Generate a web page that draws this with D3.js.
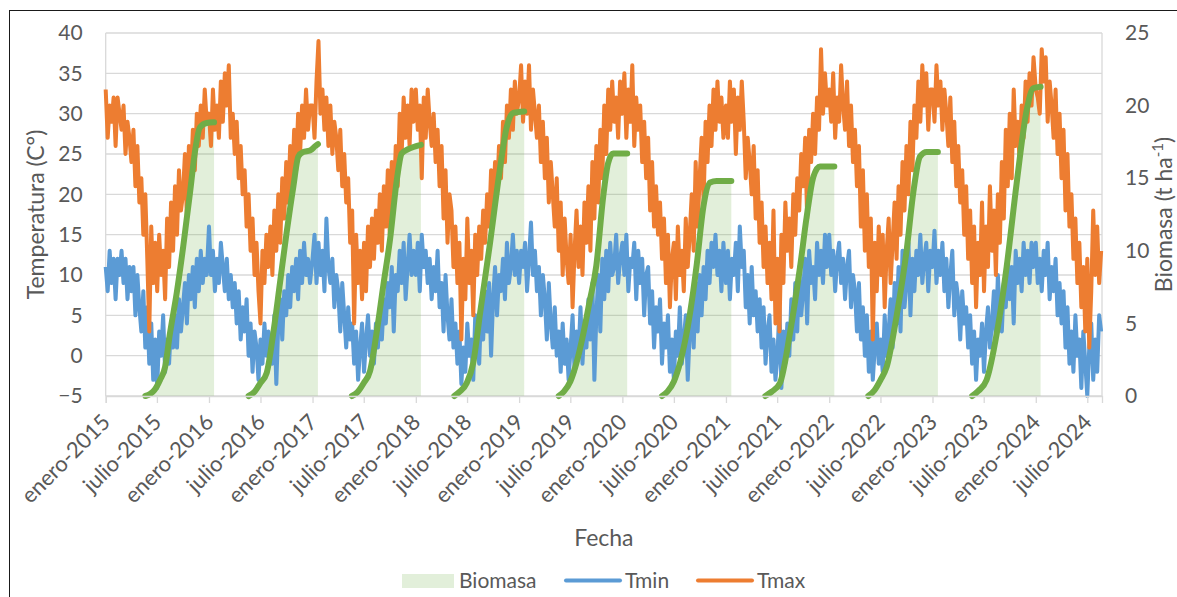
<!DOCTYPE html>
<html>
<head>
<meta charset="utf-8">
<script src="https://cdn.jsdelivr.net/npm/d3@7"></script>
<style>
    body { margin: 0; background: #fff; }
    text { font-family: Lato, "Open Sans", sans-serif; fill: #595959; }
</style>
</head>
<body>
<svg width="1177" height="597"></svg>
<script>

// valores semanales: 52 por año (1 ene + 7 dias * k), 2024 hasta agosto
var anioInicio = 2015;
var semanasPorAnio = 52;

var tmax = [
    33,27,31,29,32, 26,32,30,28, 31,25,29,27, 24,28,21,26,19, 22,15,20,12, 3,16,9,14, 8,15,10,13,7, 17,11,19,13, 21,15,23,18, 20,25,17,26,22, 28,23,30,26, 31,27,33,29,
    30,26,33,28,31, 27,34,29,35, 31,36,27,30, 25,29,22,26,20, 23,16,20,13, 17,10,14,8, 4,13,9,15,11, 16,10,18,13, 20,14,22,17, 24,19,26,21,28, 23,30,25,31, 27,33,28,31,
    31,27,34,39,30, 33,28,32,26, 31,25,29,27, 23,28,21,25,19, 22,14,18,4, 15,9,13,7, 14,8,16,11,17, 12,18,14,20, 13,21,16,23, 15,24,18,26,21, 30,25,32,27, 31,26,33,29,
    33,28,31,22,32, 27,33,29,26, 30,24,28,21, 26,17,23,14,20, 18,11,16,9, 14,2,12,7, 17,9,13,5,15, 10,16,12,18, 14,20,16,23, 18,24,20,26,22, 29,24,31,27, 33,28,34,30,
    32,36,29,34,30, 36,28,33,30, 27,31,24,29, 22,27,19,24,20, 16,22,13,19, 10,17,12,9, 15,6,13,18,11, 16,10,19,14, 21,13,24,17, 26,19,28,22,31, 25,33,28,34, 29,32,27,34,
    30,35,27,33,29, 36,26,32,28, 31,24,29,22, 27,18,24,16,21, 15,19,12,17, 9,15,6,12, 14,7,16,10,13, 8,17,11,15, 20,13,24,16, 22,27,19,29,24, 31,26,33,28, 34,29,32,27,
    31,27,34,29,33, 25,32,28,34, 29,22,27,24, 20,26,17,23,14, 19,11,16,9, 14,7,18,4, 12,3,15,9,19, 13,17,11,20, 15,22,18,25, 21,27,17,28,24, 30,25,32,28, 38,30,35,31,
    33,29,35,27,32, 29,36,31,28, 34,26,31,24, 28,21,26,16,23, 13,20,11,17, 2,14,8,16, 10,15,6,13,17, 9,14,19,12, 21,15,24,18, 26,20,29,23,31, 27,34,29,36, 31,35,28,33,
    33,29,36,31,34, 28,33,30,26, 32,24,29,21, 26,19,23,15,21, 12,18,9,16, 6,14,10,19, 8,16,11,21,13, 18,10,20,14, 24,17,28,21, 30,22,33,26,29, 24,31,27,34, 29,35,31,37,
    33,32,30,38,34, 37,29,34,31, 27,33,25,30, 22,28,18,25,16, 20,12,17,9, 14,6,11,3, 12,1,8,18,10, 16,9,13
];

var tmin = [
    11,8,13,9,12, 7,12,10,13, 9,12,7,11, 8,11,5,10,6, 3,8,1,6, -1,4,-3,2, -4,3,0,5,-2, 2,-1,4,1, 5,1,7,3, 6,9,4,10,7, 11,6,12,8, 13,9,12,10,
    16,10,13,8,12, 9,14,11,8, 12,7,10,6, 9,4,8,2,6, 3,7,0,4, -2,3,1,-3, 2,-1,4,0,3, 2,-1,5,-3.5, 4,7,2,8, 5,10,6,11,8, 12,7,13,9, 14,10,12,9,
    12,15,9,14,10, 13,8,17,11, 9,12,6,10, 8,3,9,5,1, 6,2,4,-1, 3,-3,1,4, -2,2,5,0,3, -1,4,1,6, 2,7,4,9, 6,11,3,10,8, 13,9,14,7, 11,15,10,13,
    10,14,8,15,11, 13,9,12,7, 11,8,13,6, 9,3,10,5,2, 7,1,4,-1, 3,-3.5,1,-2, 4,0,2,-3,5, 1,-1,6,2, 8,3,9,0, 7,11,5,10,8, 12,7,14,9, 11,15,10,13,
    9,13,11,14,8, 12,16.5,10,13, 8,11,5,10, 7,2,9,4,1, 6,0,3,-2, 4,-1,2,-3, 1,5,-2,3,0, 6,-1,4,1, 7,2,9,-3, 5,10,3,12,7, 13,8,14,10, 11,15,9,12,
    14,10,15,8,12, 11,14,7,13, 9,12,5,10, 11,4,8,1,6, 3,7,-1,4, 1,5,-2,2, -3,3,0,6,-1, 2,5,-3,3, 6,1,9,3, 10,5,11,7,13, 9,14,11,15, 10,13,8,14,
    9,13,7,12,10, 14,8,16,11, 13,6,10,4, 11,5,8,3,7, 1,6,-1,3, 5,-2,2,-3, 0,6,-4,3,-1, 4,0,7,2, 9,3,11,5, 8,12,4,13,9, 11,7,14,10, 13,9,15,11,
    15,10,13,8,12, 14,9,12,7, 11,13,6,10, 8,3,9,2,6, 0,5,-2,3, -3,1,4,-1, 2,-2,5,0,3, 7,1,9,4, 11,3,13,6, 9,14,5,12,8, 13,10,15,9, 12,14,8,13,
    11,15.5,9,13,10, 14,8,12,6, 10,13,5,9, 7,2,8,4,6, 1,5,-1,3, -3,2,0,4, -2,3,6,1,4, 8,2,10,5, 3,9,6,12, 7,11,4,13,9, 12,8,14,10, 13,9,14,11,
    14,9,12,8,13, 10,14,7,11, 8,12,5,9, 4,8,1,6,-1, 3,-2,5,0, 2,-4,3,-1, -5,1,4,-3,2, -2,5,3
];

// biomasa (t/ha) por temporada, null separa las temporadas
var biomasa = [
    ["2015-05-21",0], ["2015-06-08",0.15], ["2015-06-22",0.4], ["2015-07-12",1.1], ["2015-07-30",2.0], ["2015-08-16",4.3], ["2015-09-09",7.1], ["2015-10-02",10.3], ["2015-10-26",14.0], ["2015-11-13",16.9], ["2015-11-30",18.5], ["2015-12-24",18.8], ["2016-01-19",18.85],
    null,
    ["2016-05-20",0], ["2016-06-10",0.3], ["2016-07-01",0.9], ["2016-07-23",1.6], ["2016-08-15",4.3], ["2016-09-08",7.8], ["2016-10-01",11.2], ["2016-10-25",14.4], ["2016-11-12",16.5], ["2016-11-29",16.8], ["2016-12-23",16.9], ["2017-01-10",17.2], ["2017-01-20",17.35],
    null,
    ["2017-05-20",0], ["2017-06-08",0.25], ["2017-07-01",0.9], ["2017-07-23",1.7], ["2017-08-15",4.3], ["2017-09-08",7.6], ["2017-10-02",10.8], ["2017-10-26",14.9], ["2017-11-12",16.7], ["2017-12-05",17.0], ["2018-01-19",17.3],
    null,
    ["2018-05-17",0], ["2018-06-05",0.3], ["2018-06-30",0.9], ["2018-07-23",2.3], ["2018-08-16",5.7], ["2018-09-20",10.5], ["2018-10-25",15.6], ["2018-11-18",18.5], ["2018-12-11",19.5], ["2019-01-19",19.6],
    null,
    ["2019-05-21",0], ["2019-06-08",0.3], ["2019-07-01",1.0], ["2019-07-23",2.3], ["2019-08-16",4.3], ["2019-09-07",6.5], ["2019-10-01",9.0], ["2019-10-25",13.7], ["2019-11-11",16.0], ["2019-11-29",16.7], ["2020-01-18",16.7],
    null,
    ["2020-05-20",0], ["2020-06-08",0.3], ["2020-07-01",1.0], ["2020-07-23",2.3], ["2020-08-27",5.7], ["2020-09-20",9.1], ["2020-10-13",13.0], ["2020-11-06",14.7], ["2020-11-29",14.8], ["2021-01-20",14.8],
    null,
    ["2021-05-20",0], ["2021-06-12",0.3], ["2021-07-11",0.9], ["2021-08-15",4.3], ["2021-09-20",8.9], ["2021-10-13",12.3], ["2021-11-06",15.1], ["2021-11-29",15.8], ["2022-01-19",15.8],
    null,
    ["2022-05-19",0], ["2022-06-10",0.4], ["2022-07-01",1.1], ["2022-07-23",2.0], ["2022-08-27",5.5], ["2022-10-02",10.1], ["2022-10-25",14.0], ["2022-11-18",16.5], ["2022-12-11",16.8], ["2023-01-20",16.8],
    null,
    ["2023-05-21",0], ["2023-06-12",0.35], ["2023-07-11",1.1], ["2023-08-16",4.3], ["2023-09-20",8.9], ["2023-10-25",14.6], ["2023-11-30",19.7], ["2023-12-23",21.2], ["2024-01-18",21.3]
];

var ticksTemp = [-5, 0, 5, 10, 15, 20, 25, 30, 35, 40];
var ticksBio = [0, 5, 10, 15, 20, 25];
var mesesEje = ["enero", "julio"];
var aniosEje = [2015, 2016, 2017, 2018, 2019, 2020, 2021, 2022, 2023, 2024];

var colorTmin = "#5b9bd5";
var colorTmax = "#ed7d31";
var colorBio = "#70ad47";

var svg = d3.select("svg");

var plotLeft = 105.7, plotRight = 1102, plotTop = 33, plotBottom = 396;

var parseFecha = d3.timeParse("%Y-%m-%d");

function fechaSemana(i) {
    var anio = anioInicio + Math.floor(i / semanasPorAnio);
    var k = i % semanasPorAnio;
    return new Date(anio, 0, 1 + 7 * k);
}

var x = d3.scaleTime()
    .domain([new Date(2015, 0, 1), new Date(2024, 7, 22)])
    .range([plotLeft, plotRight]);

var y = d3.scaleLinear().domain([-5, 40]).range([plotBottom, plotTop]);
var y2 = d3.scaleLinear().domain([0, 25]).range([plotBottom, plotTop]);

// marco
svg.append("rect")
    .attr("x", 9.5).attr("y", 10.5)
    .attr("width", 1200).attr("height", 620)
    .attr("fill", "none")
    .attr("stroke", "#1a1a1a")
    .attr("stroke-width", 1);

// rejilla
svg.append("g")
    .selectAll("line")
    .data(ticksTemp)
    .enter().append("line")
    .attr("x1", plotLeft).attr("x2", plotRight)
    .attr("y1", function(d) { return y(d); })
    .attr("y2", function(d) { return y(d); })
    .attr("stroke", "#d9d9d9")
    .attr("stroke-width", 1.3);

svg.append("g")
    .selectAll("line")
    .data([plotLeft, plotRight])
    .enter().append("line")
    .attr("x1", function(d) { return d; })
    .attr("x2", function(d) { return d; })
    .attr("y1", plotTop).attr("y2", plotBottom)
    .attr("stroke", "#d9d9d9")
    .attr("stroke-width", 1.3);

// biomasa: area + linea
var bioData = biomasa.map(function(d) { return d ? { fecha: parseFecha(d[0]), valor: d[1] } : null; });

var area = d3.area()
    .defined(function(d) { return d !== null; })
    .x(function(d) { return x(d.fecha); })
    .y0(y2(0))
    .y1(function(d) { return y2(d.valor); })
    .curve(d3.curveMonotoneX);

svg.append("path")
    .attr("d", area(bioData))
    .attr("fill", colorBio)
    .attr("fill-opacity", 0.2);

var temp = tmax.map(function(v, i) { return { fecha: fechaSemana(i), tmax: v, tmin: tmin[i] }; });

var lineaTmin = d3.line()
    .x(function(d) { return x(d.fecha); })
    .y(function(d) { return y(d.tmin); });

var lineaTmax = d3.line()
    .x(function(d) { return x(d.fecha); })
    .y(function(d) { return y(d.tmax); });

svg.append("path")
    .attr("d", lineaTmin(temp))
    .attr("fill", "none")
    .attr("stroke", colorTmin)
    .attr("stroke-width", 4)
    .attr("stroke-linejoin", "round");

svg.append("path")
    .attr("d", lineaTmax(temp))
    .attr("fill", "none")
    .attr("stroke", colorTmax)
    .attr("stroke-width", 4)
    .attr("stroke-linejoin", "round");

var lineaBio = d3.line()
    .defined(function(d) { return d !== null; })
    .x(function(d) { return x(d.fecha); })
    .y(function(d) { return y2(d.valor); })
    .curve(d3.curveMonotoneX);

svg.append("path")
    .attr("d", lineaBio(bioData))
    .attr("fill", "none")
    .attr("stroke", colorBio)
    .attr("stroke-width", 6)
    .attr("stroke-linecap", "round")
    .attr("stroke-linejoin", "round");

// eje x
var fechasEje = [];
aniosEje.forEach(function(a) {
    fechasEje.push(new Date(a, 0, 1));
    fechasEje.push(new Date(a, 6, 1));
});

var ejeX = svg.append("g")
    .attr("transform", "translate(0," + plotBottom + ")")
    .call(d3.axisBottom(x)
        .tickValues(fechasEje)
        .tickSize(7)
        .tickFormat(function(d) { return mesesEje[d.getMonth() === 0 ? 0 : 1] + "-" + d.getFullYear(); }));

ejeX.select(".domain").attr("stroke", "#d9d9d9").attr("stroke-width", 1.3);
ejeX.selectAll(".tick line").attr("stroke", "#d9d9d9").attr("stroke-width", 1.3);
ejeX.selectAll(".tick text")
    .attr("x", 0).attr("y", 0)
    .attr("dy", "0.35em")
    .attr("transform", "translate(0,22) rotate(-45)")
    .style("text-anchor", "end")
    .style("font-size", "22px")
    .style("font-family", "Lato")
    .attr("fill", "#595959");

// ejes y
var ejeY = svg.append("g")
    .attr("transform", "translate(" + plotLeft + ",0)")
    .call(d3.axisLeft(y).tickValues(ticksTemp).tickSize(0).tickPadding(23));
ejeY.select(".domain").remove();
ejeY.selectAll("text").style("font-size", "21px").style("font-family", "Lato").attr("fill", "#595959");

var ejeY2 = svg.append("g")
    .attr("transform", "translate(" + plotRight + ",0)")
    .call(d3.axisRight(y2).tickValues(ticksBio).tickSize(0).tickPadding(23));
ejeY2.select(".domain").remove();
ejeY2.selectAll("text").style("font-size", "21px").style("font-family", "Lato").attr("fill", "#595959");

// titulos
svg.append("text")
    .attr("transform", "translate(44," + (plotTop + plotBottom) / 2 + ") rotate(-90)")
    .attr("text-anchor", "middle")
    .style("font-size", "23px")
    .text("Temperatura (C°)");

var tituloBio = svg.append("text")
    .attr("transform", "translate(1172," + (plotTop + plotBottom) / 2 + ") rotate(-90)")
    .attr("text-anchor", "middle")
    .style("font-size", "23px");
tituloBio.append("tspan").text("Biomasa (t ha");
tituloBio.append("tspan").attr("baseline-shift", "super").style("font-size", "15px").text("-1");
tituloBio.append("tspan").text(")");

svg.append("text")
    .attr("x", (plotLeft + plotRight) / 2)
    .attr("y", 545.5)
    .attr("text-anchor", "middle")
    .style("font-size", "23px")
    .text("Fecha");

// leyenda
var leyenda = svg.append("g");

leyenda.append("rect")
    .attr("x", 402).attr("y", 574)
    .attr("width", 52).attr("height", 14)
    .attr("fill", colorBio)
    .attr("fill-opacity", 0.2);
leyenda.append("text").attr("x", 459).attr("y", 587.5).style("font-size", "21px").text("Biomasa");

leyenda.append("line")
    .attr("x1", 566).attr("x2", 620).attr("y1", 580.5).attr("y2", 580.5)
    .attr("stroke", colorTmin).attr("stroke-width", 4).attr("stroke-linecap", "round");
leyenda.append("text").attr("x", 625).attr("y", 587.5).style("font-size", "21px").text("Tmin");

leyenda.append("line")
    .attr("x1", 698).attr("x2", 752).attr("y1", 580.5).attr("y2", 580.5)
    .attr("stroke", colorTmax).attr("stroke-width", 4).attr("stroke-linecap", "round");
leyenda.append("text").attr("x", 757).attr("y", 587.5).style("font-size", "21px").text("Tmax");

</script>
</body>
</html>
